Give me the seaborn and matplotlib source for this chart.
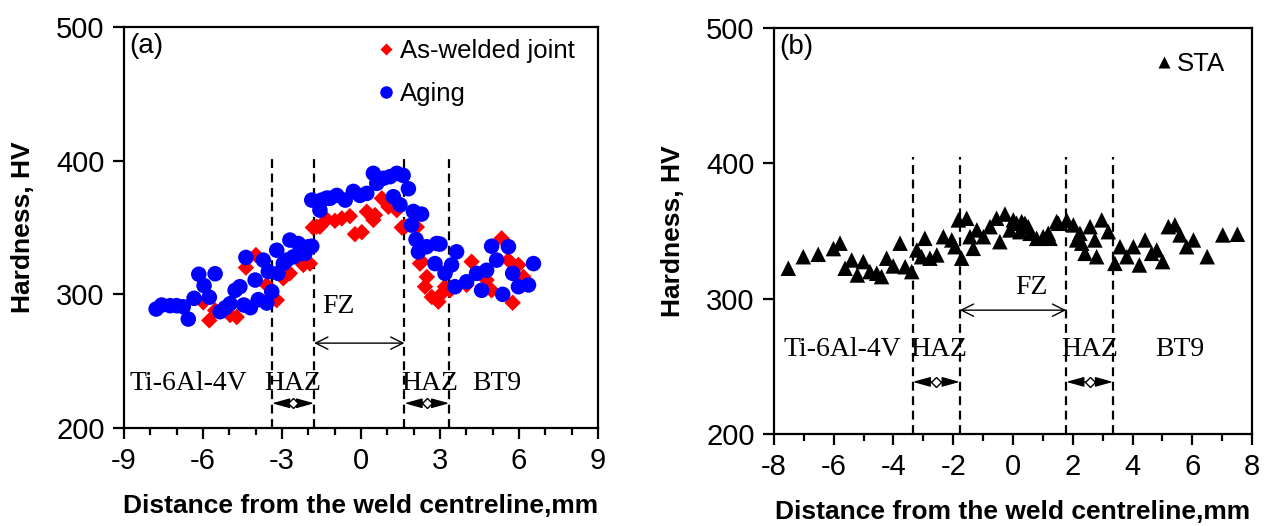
import numpy as np
import pandas as pd
import matplotlib
matplotlib.use("Agg")
import matplotlib.pyplot as plt
from matplotlib.lines import Line2D
from matplotlib.ticker import MultipleLocator
import seaborn as sns

# ---------------- data ----------------
aw_x = [-5.99, -5.76, -5.54, -4.97, -4.72, -4.37, -3.99, -3.58, -3.39, -3.2, -2.95, -2.7, -2.19, -1.94,
        -1.83, -1.68, -1.56, -1.3, -0.99, -0.73, -0.42, -0.23, 0.03, 0.22, 0.47, 0.53, 0.79, 1.04, 1.36,
        1.55, 1.67, 2.12, 2.24, 2.31, 2.43, 2.5, 2.69, 2.94, 3.07, 3.19, 3.38, 4.01, 4.2, 4.77, 4.96,
        5.34, 5.6, 5.76, 5.98, 6.17]
aw_y = [294, 280.5, 288, 284.5, 283, 320, 329.4, 307, 299, 295.7, 312, 315.7, 322, 323,
        350, 350.6, 350.6, 356, 355, 356.8, 358.5, 345, 346.5, 361.8, 355.6, 359.3, 371.8, 365.5, 363,
        350, 350.6, 350.3, 323, 324.4, 305.7, 313, 298, 294.5, 300.7, 305.7, 303, 307, 324.4, 310.7, 303,
        341.9, 325.6, 293.7, 322, 313]

ag_x = [-7.78, -7.57, -7.25, -7.0, -6.75, -6.56, -6.34, -6.16, -5.96, -5.76, -5.54, -5.35, -5.15, -4.97,
        -4.78, -4.6, -4.45, -4.37, -4.2, -4.02, -3.9, -3.71, -3.58, -3.52, -3.39, -3.2, -3.15, -2.95,
        -2.82, -2.7, -2.57, -2.38, -2.25, -2.13, -2.0, -1.87, -1.87, -1.56, -1.5, -1.3, -1.18, -0.92,
        -0.6, -0.29, -0.04, 0.22, 0.47, 0.6, 0.85, 1.1, 1.23, 1.36, 1.48, 1.6, 1.8, 1.92, 1.99, 2.09,
        2.18, 2.3, 2.49, 2.81, 2.87, 3.0, 3.19, 3.44, 3.57, 3.63, 4.01, 4.39, 4.58, 4.77, 4.96, 5.15,
        5.38, 5.6, 5.76, 5.98, 6.36, 6.55]
ag_y = [289, 292, 291.5, 291.5, 290.7, 281.5, 297, 315, 306.5, 297.8, 315.4, 287, 290, 293,
        303, 305.7, 292, 327.6, 290, 310.7, 296, 325.6, 293.5, 317, 302, 333, 315.7, 323,
        325.6, 340.6, 328, 338, 330.6, 330.6, 335.6, 336, 370.5, 363, 370.5, 372, 371.8, 374,
        370.5, 377, 374, 375.5, 390.5, 383, 386.8, 388, 373, 390.5, 367, 389, 379, 351.8, 362, 341,
        331.8, 360, 335.6, 323, 338, 337.6, 315.7, 322, 305.7, 331.8, 309.4, 315.7, 303, 318, 336, 325.6,
        300, 335.6, 315.7, 305.7, 307, 323]

sta_x = [-7.52, -7.02, -6.52, -6.01, -5.79, -5.62, -5.4, -5.21, -5.01, -4.79, -4.56, -4.4, -4.23, -4.01,
         -3.78, -3.61, -3.39, -3.22, -3.06, -2.95, -2.78, -2.55, -2.33, -2.05, -1.94, -1.83, -1.72, -1.55,
         -1.44, -1.33, -1.21, -0.99, -0.77, -0.55, -0.44, -0.27, -0.1, 0.01, 0.12, 0.23, 0.29, 0.4, 0.51,
         0.57, 0.79, 1.01, 1.18, 1.24, 1.46, 1.52, 1.8, 2.02, 2.13, 2.24, 2.3, 2.41, 2.58, 2.74, 2.8, 2.97,
         3.19, 3.41, 3.58, 3.81, 4.03, 4.23, 4.42, 4.64, 4.81, 5.01, 5.2, 5.42, 5.59, 5.81, 6.04, 6.5,
         7.02, 7.51]
sta_y = [322.5, 331, 332.8, 337, 341, 322.5, 328.6, 317.5, 327.4, 320, 318.8, 316.3, 329.9, 324.2,
         341, 323.6, 320, 336, 331, 344.6, 329.9, 332.3, 345.8, 343.4, 338.4, 358.2, 329.9, 359.4,
         345.8, 337.2, 350.8, 345.8, 353.2, 359.4, 342.1, 362.5, 350.8, 358.2, 355.7, 349.5, 357, 355.7, 353.2,
         348.3, 344.6, 345.8, 348.3, 344.6, 357, 355.7, 358, 354.5, 343.4, 348.3, 341, 333.5, 353.2, 343.4, 331, 358.2,
         349.5, 326.1, 338.4, 331, 338.4, 324.9, 343.4, 333.5, 336, 327.4, 353.2, 354.5, 347.1, 338.4, 343.4, 331,
         347.1, 347.6]

bnd_a = [-3.38, -1.78, 1.65, 3.35]
bnd_b = [-3.36, -1.78, 1.78, 3.35]
zone_labels = ["Ti-6Al-4V", "HAZ", "FZ", "HAZ", "BT9"]
xticks_a = [-9, -6, -3, 0, 3, 6, 9]
xticks_b = [-8, -6, -4, -2, 0, 2, 4, 6, 8]
yticks = [200, 300, 400, 500]

# ---------------- style ----------------
sns.set_style("ticks")
plt.rcParams['font.family'] = ['Liberation Sans', 'DejaVu Sans']
plt.rcParams['axes.unicode_minus'] = False
plt.rcParams['text.color'] = 'black'
plt.rcParams['axes.labelcolor'] = 'black'
plt.rcParams['xtick.color'] = 'black'
plt.rcParams['ytick.color'] = 'black'
plt.rcParams['axes.linewidth'] = 1.6
SERIF = ['Liberation Serif', 'DejaVu Serif']

fig = plt.figure(figsize=(12.68, 5.26), dpi=100)
axa = fig.add_axes([0.0978, 0.1863, 0.3738, 0.7624])
axb = fig.add_axes([0.6104, 0.1749, 0.3770, 0.7719])

df_aw = pd.DataFrame({"x": aw_x, "y": aw_y})
df_ag = pd.DataFrame({"x": ag_x, "y": ag_y})
df_sta = pd.DataFrame({"x": sta_x, "y": sta_y})

sns.scatterplot(data=df_aw, x="x", y="y", ax=axa, marker="D", color="#ff0000", s=70,
                edgecolor="none", linewidth=0, zorder=3)
sns.scatterplot(data=df_ag, x="x", y="y", ax=axa, marker="o", color="#0000ff", s=125,
                edgecolor="none", linewidth=0, zorder=4)
sns.scatterplot(data=df_sta, x="x", y="y", ax=axb, marker="^", color="black", s=125,
                edgecolor="none", linewidth=0, zorder=3)


def style_axis(ax, xlim, xticks, minor):
    ax.set_xlim(*xlim)
    ax.set_ylim(200, 500)
    ax.set_xticks(xticks)
    ax.set_yticks(yticks)
    ax.xaxis.set_minor_locator(MultipleLocator(minor))
    for sp in ax.spines.values():
        sp.set_visible(True)
        sp.set_linewidth(1.6)
        sp.set_color("black")
    ax.tick_params(axis="both", which="major", direction="out", length=8, width=1.6,
                   labelsize=21, pad=6, colors="black")
    ax.tick_params(axis="x", which="minor", direction="out", length=5, width=1.6)
    ax.tick_params(axis="y", which="minor", left=False)
    ax.set_xlabel("Distance from the weld centreline,mm", fontsize=19, fontweight="bold", labelpad=13)
    ax.set_ylabel("Hardness, HV", fontsize=19, fontweight="bold", labelpad=15)


style_axis(axa, (-9, 9), xticks_a, 1)
style_axis(axb, (-8, 8), xticks_b, 1)


def zones(ax, bnd, dash_top, fz_xy, fz_arrow_y, lab_y, haz_arrow_y, lab_x):
    for b in bnd:
        ax.plot([b, b], [200, dash_top], color="black", lw=1.6, ls=(0, (4, 2.5)), zorder=2)
    # FZ arrow
    ax.annotate("", xy=(bnd[1], fz_arrow_y), xytext=(bnd[2], fz_arrow_y),
                arrowprops=dict(arrowstyle="<->", color="black", lw=1.0,
                                mutation_scale=22, shrinkA=0, shrinkB=0))
    ax.text(fz_xy[0], fz_xy[1], zone_labels[2], family=SERIF, fontsize=20, ha="center", va="center")
    # HAZ arrows
    for (l, r) in [(bnd[0], bnd[1]), (bnd[2], bnd[3])]:
        ax.annotate("", xy=(l, haz_arrow_y), xytext=(r, haz_arrow_y),
                    arrowprops=dict(arrowstyle="<|-|>,head_length=0.9,head_width=0.25", color="black",
                                    lw=1.0, mutation_scale=12, shrinkA=0, shrinkB=0))
        ax.plot([(l + r) / 2], [haz_arrow_y], marker="D", ms=5, mfc="white", mec="black", mew=1.0, zorder=5)
    for txt, xx in zip([zone_labels[0], zone_labels[1], zone_labels[3], zone_labels[4]], lab_x):
        ax.text(xx, lab_y, txt, family=SERIF, fontsize=20, ha="center", va="center")


zones(axa, bnd_a, 403, (-0.85, 291), 263.5, 233, 218.5, [-6.55, -2.6, 2.6, 5.15])
zones(axb, bnd_b, 405, (0.6, 308), 291.5, 262.5, 238.5, [-5.7, -2.5, 2.55, 5.6])

axa.text(0.012, 0.985, "(a)", transform=axa.transAxes, fontsize=20, ha="left", va="top")
axb.text(0.012, 0.985, "(b)", transform=axb.transAxes, fontsize=20, ha="left", va="top")

h_a = [Line2D([], [], ls="none", marker="D", color="#ff0000", ms=6, mec="none"),
       Line2D([], [], ls="none", marker="o", color="#0000ff", ms=9, mec="none")]
axa.legend(h_a, ["As-welded joint", "Aging"], loc="upper left", bbox_to_anchor=(0.49, 1.025),
           frameon=False, fontsize=18.5, handlelength=0.6, handletextpad=0.25,
           labelspacing=0.75, borderpad=0.35)
h_b = [Line2D([], [], ls="none", marker="^", color="black", ms=9, mec="none")]
axb.legend(h_b, ["STA"], loc="upper left", bbox_to_anchor=(0.754, 0.995),
           frameon=False, fontsize=18.5, handlelength=0.6, handletextpad=0.2, borderpad=0.35)

fig.savefig("out.png", dpi=100)
